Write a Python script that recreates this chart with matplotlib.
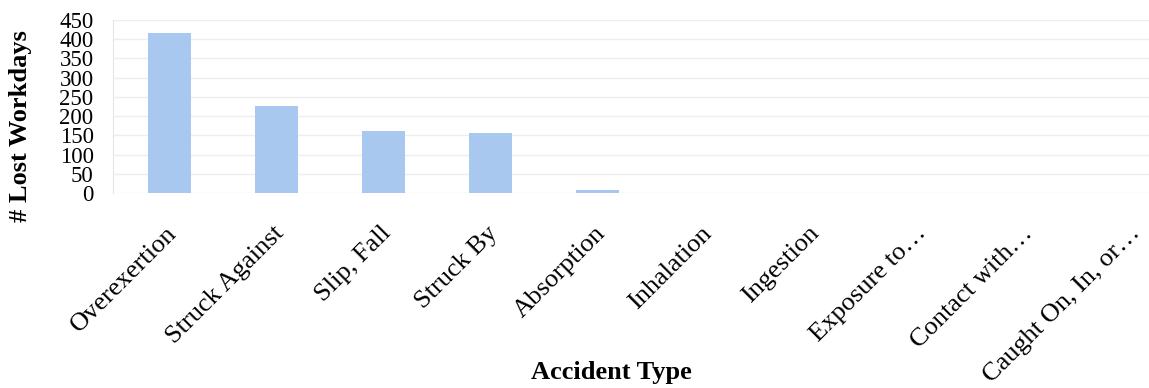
import matplotlib
matplotlib.use("Agg")
import matplotlib.pyplot as plt
import matplotlib.transforms as mtransforms
import numpy as np

categories = ["Overexertion", "Struck Against", "Slip, Fall", "Struck By", "Absorption",
              "Inhalation", "Ingestion", "Exposure to…", "Contact with…", "Caught On, In, or…"]
lost_workdays = [417, 226, 160, 155, 8, 0, 0, 0, 0, 0]
y_ticks = [0, 50, 100, 150, 200, 250, 300, 350, 400, 450]

plt.rcParams['font.family'] = ['Liberation Serif', 'DejaVu Serif']

W, H = 1149, 388
fig = plt.figure(figsize=(W / 100, H / 100), dpi=100)
ax = fig.add_axes([113 / W, (H - 193) / H, 1073 / W, 173 / H])

x = np.arange(len(categories))
ax.bar(x, lost_workdays, width=0.4, color='#a9c8f0', zorder=2)

ax.set_xlim(-0.53, 9.5)
ax.set_ylim(0, 450)
ax.set_yticks(y_ticks)
ax.set_yticklabels([str(v) for v in y_ticks], fontsize=16.5)
ax.yaxis.grid(True, color='#eeeeee', linewidth=1.0, zorder=0)
ax.set_axisbelow(True)

for s in ['top', 'right', 'bottom']:
    ax.spines[s].set_visible(False)
ax.spines['left'].set_color('#e6e6e6')

ax.tick_params(axis='y', length=0, pad=14)
ax.tick_params(axis='x', length=0, pad=0)

ax.set_xticks(x)
ax.set_xticklabels(categories, fontsize=19, rotation=45,
                   ha='right', va='center', rotation_mode='anchor')
offset = mtransforms.ScaledTranslation(4 / 100, -37 / 100, fig.dpi_scale_trans)
for lab in ax.get_xticklabels():
    lab.set_transform(lab.get_transform() + offset)

ax.set_xlabel("Accident Type", fontsize=19, fontweight='bold')
ax.xaxis.set_label_coords((611 - 113) / 1073, (193 - 372) / 173)
ax.xaxis.label.set_va('center')

ax.set_ylabel("# Lost Workdays", fontsize=19, fontweight='bold')
ax.yaxis.set_label_coords((21 - 113) / 1073, (193 - 126) / 173)
ax.yaxis.label.set_va('center')

fig.savefig("out.png", dpi=100)
